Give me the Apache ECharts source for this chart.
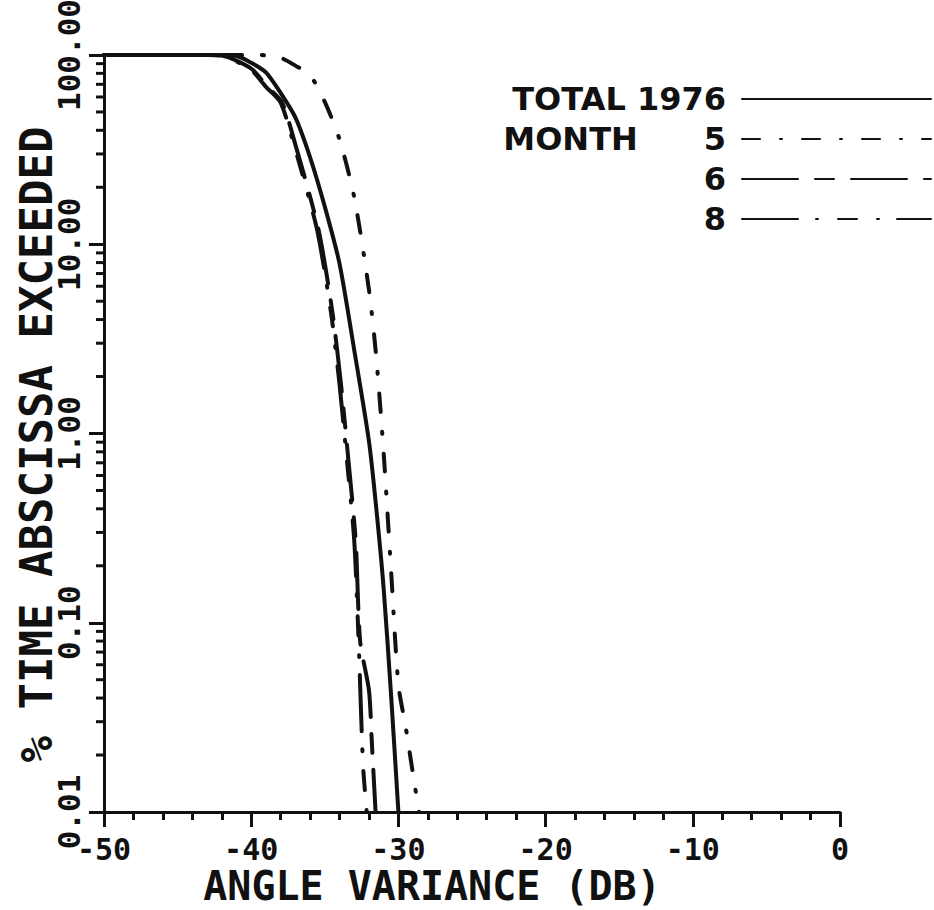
<!DOCTYPE html>
<html>
<head>
<meta charset="utf-8">
<script src="https://cdn.jsdelivr.net/npm/echarts@6/dist/echarts.min.js"></script>
<style>html,body{margin:0;padding:0;background:#fff}#c{width:934px;height:910px}</style>
</head>
<body>
<div id="c"></div>
<script>
// ---- data ----
const seriesNames = ['TOTAL 1976', '5', '6', '8'];

const xTotal = [-50, -42.5, -41, -40, -39, -38, -37, -36, -35, -34, -33, -32, -31.5, -31, -30.5, -30];
const yTotal = [100, 100, 98.8, 91, 81, 63, 46.8, 28.8, 15.8, 7.9, 2.76, 0.91, 0.40, 0.151, 0.0417, 0.01];

const xMonth5 = [-50, -39.5, -38, -37, -36, -35, -34, -33, -32, -31.5, -31, -30.5, -30, -29.5, -29, -28.6];
const yMonth5 = [100, 100, 96.6, 87.9, 78.2, 56.5, 35.8, 17.7, 5.75, 2.51, 0.785, 0.19, 0.047, 0.028, 0.0157, 0.01];

const xMonth6 = [-50, -43, -42, -40.9, -39.9, -38.9, -37.9, -36.9, -35.9, -35.4, -34.9, -34.4, -33.9, -33.4, -32.9, -32.6, -32.0, -31.8, -31.55];
const yMonth6 = [100, 100, 99.3, 92.5, 83.5, 67.9, 56, 31.6, 16.7, 11.7, 7.1, 3.93, 1.82, 0.728, 0.271, 0.08, 0.044, 0.023, 0.01];

const xMonth8 = [-50, -43, -42, -41, -40, -39, -38, -37, -36, -35.5, -35, -34.5, -34, -33.5, -33, -32.7, -32.4, -32.15];
const yMonth8 = [100, 100, 99.3, 92.5, 83.5, 67.9, 56, 31.6, 16.7, 11.7, 7.1, 3.93, 1.82, 0.728, 0.271, 0.079, 0.0175, 0.01];

const xTickValues = [-50, -40, -30, -20, -10, 0];
const yTickValues = [0.01, 0.1, 1, 10, 100];
const yTickLabels = ['0.01', '0.10', '1.00', '10.00', '100.00'];
const yMinorValues = [0.02,0.03,0.04,0.05,0.06,0.07,0.08,0.09,
                      0.2,0.3,0.4,0.5,0.6,0.7,0.8,0.9,
                      2,3,4,5,6,7,8,9,
                      20,30,40,50,60,70,80,90];

// ---- chart ----
const ink = '#111';
const clear = 'rgba(0,0,0,0)';
const monoFont = "'DejaVu Sans Mono', 'Liberation Mono', monospace";
const legendFont = "'DejaVu Sans', sans-serif";
const pairs = (xs, ys) => xs.map((x, i) => [x, ys[i]]);
const lg = v => Math.log10(v);
const xMin = -50, xMax = 0;

const dashes = {
  'TOTAL 1976': 'solid',
  '5': [18, 20, 2, 20],
  '6': [56, 17, 19, 17],
  '8': [56, 18, 2, 20, 19, 20, 2, 18]
};
const seriesData = {
  'TOTAL 1976': pairs(xTotal, yTotal),
  '5': pairs(xMonth5, yMonth5),
  '6': pairs(xMonth6, yMonth6),
  '8': pairs(xMonth8, yMonth8)
};

const legendTops = [83, 123, 163, 203];
const legendText = () => ({fontFamily: legendFont, fontWeight: 'bold', fontSize: 32, color: ink});

const chart = echarts.init(document.getElementById('c'), null, {renderer: 'svg'});

const option = {
  backgroundColor: '#fff',
  animation: false,
  grid: {left: 104, right: 94, top: 55, bottom: 98, outerBoundsMode: 'none'},
  xAxis: {
    type: 'value', min: xMin, max: xMax, interval: 10,
    axisLine: {onZero: false, lineStyle: {color: ink, width: 3}},
    axisTick: {length: 15, lineStyle: {color: ink, width: 3}},
    minorTick: {show: true, splitNumber: 5, length: 8, lineStyle: {color: ink, width: 3}},
    splitLine: {show: false},
    minorSplitLine: {show: false},
    axisLabel: {margin: 22, color: ink, fontFamily: monoFont, fontWeight: 'bold', fontSize: 30},
    name: 'ANGLE VARIANCE (DB)', nameLocation: 'middle', nameGap: 54, nameMoveOverlap: false,
    nameTextStyle: {color: ink, fontFamily: monoFont, fontWeight: 'bold', fontSize: 40, padding: [0, 80, 0, 0]}
  },
  yAxis: {
    type: 'log', logBase: 10, min: 0.01, max: 100,
    axisLine: {onZero: false, lineStyle: {color: ink, width: 3}},
    axisTick: {show: true, length: 15, lineStyle: {color: ink, width: 3}},
    splitLine: {show: false},
    axisLabel: {
      rotate: 90, margin: 20, color: ink,
      fontFamily: monoFont, fontWeight: 'bold', fontSize: 31,
      formatter: v => {
        const i = yTickValues.findIndex(t => Math.abs(lg(t) - lg(v)) < 1e-6);
        return i >= 0 ? yTickLabels[i] : String(v);
      }
    },
    name: '% TIME ABSCISSA EXCEEDED', nameLocation: 'middle', nameGap: 46, nameMoveOverlap: false,
    nameTextStyle: {color: ink, fontFamily: monoFont, fontWeight: 'bold', fontSize: 44, padding: [0, 22, 0, 0]}
  },
  legend: seriesNames.map((n, i) => ({
    data: [n], orient: 'vertical', right: 2, top: legendTops[i], padding: 0,
    align: 'right', itemWidth: 189, itemHeight: 20, selectedMode: false,
    itemStyle: {color: clear, borderColor: clear, borderWidth: 0},
    formatter: name => name === '5' ? '{m|MONTH}{n|5}' : name,
    textStyle: Object.assign(legendText(), {
      padding: [0, 11, 0, 0],
      rich: {
        m: legendText(),
        n: Object.assign(legendText(), {padding: [0, 0, 0, 66]})
      }
    })
  })),
  series: seriesNames.map(n => ({
    name: n, type: 'line',
    symbol: 'none', smooth: 0.25,
    lineStyle: {color: ink, width: 4, type: dashes[n], cap: 'round', join: 'round'},
    itemStyle: {color: ink},
    data: seriesData[n]
  }))
};
chart.setOption(option);

// minor 2..9 tick marks on the y axis, positioned through the axis scales
const xAxisPx = chart.convertToPixel({xAxisIndex: 0}, xMin);
const marks = yMinorValues.map(v => {
  const y = chart.convertToPixel({yAxisIndex: 0}, v);
  return {type: 'line', shape: {x1: xAxisPx - 8, y1: y, x2: xAxisPx, y2: y},
          style: {stroke: ink, lineWidth: 3}};
});
chart.setOption({graphic: marks});
</script>
</body>
</html>
